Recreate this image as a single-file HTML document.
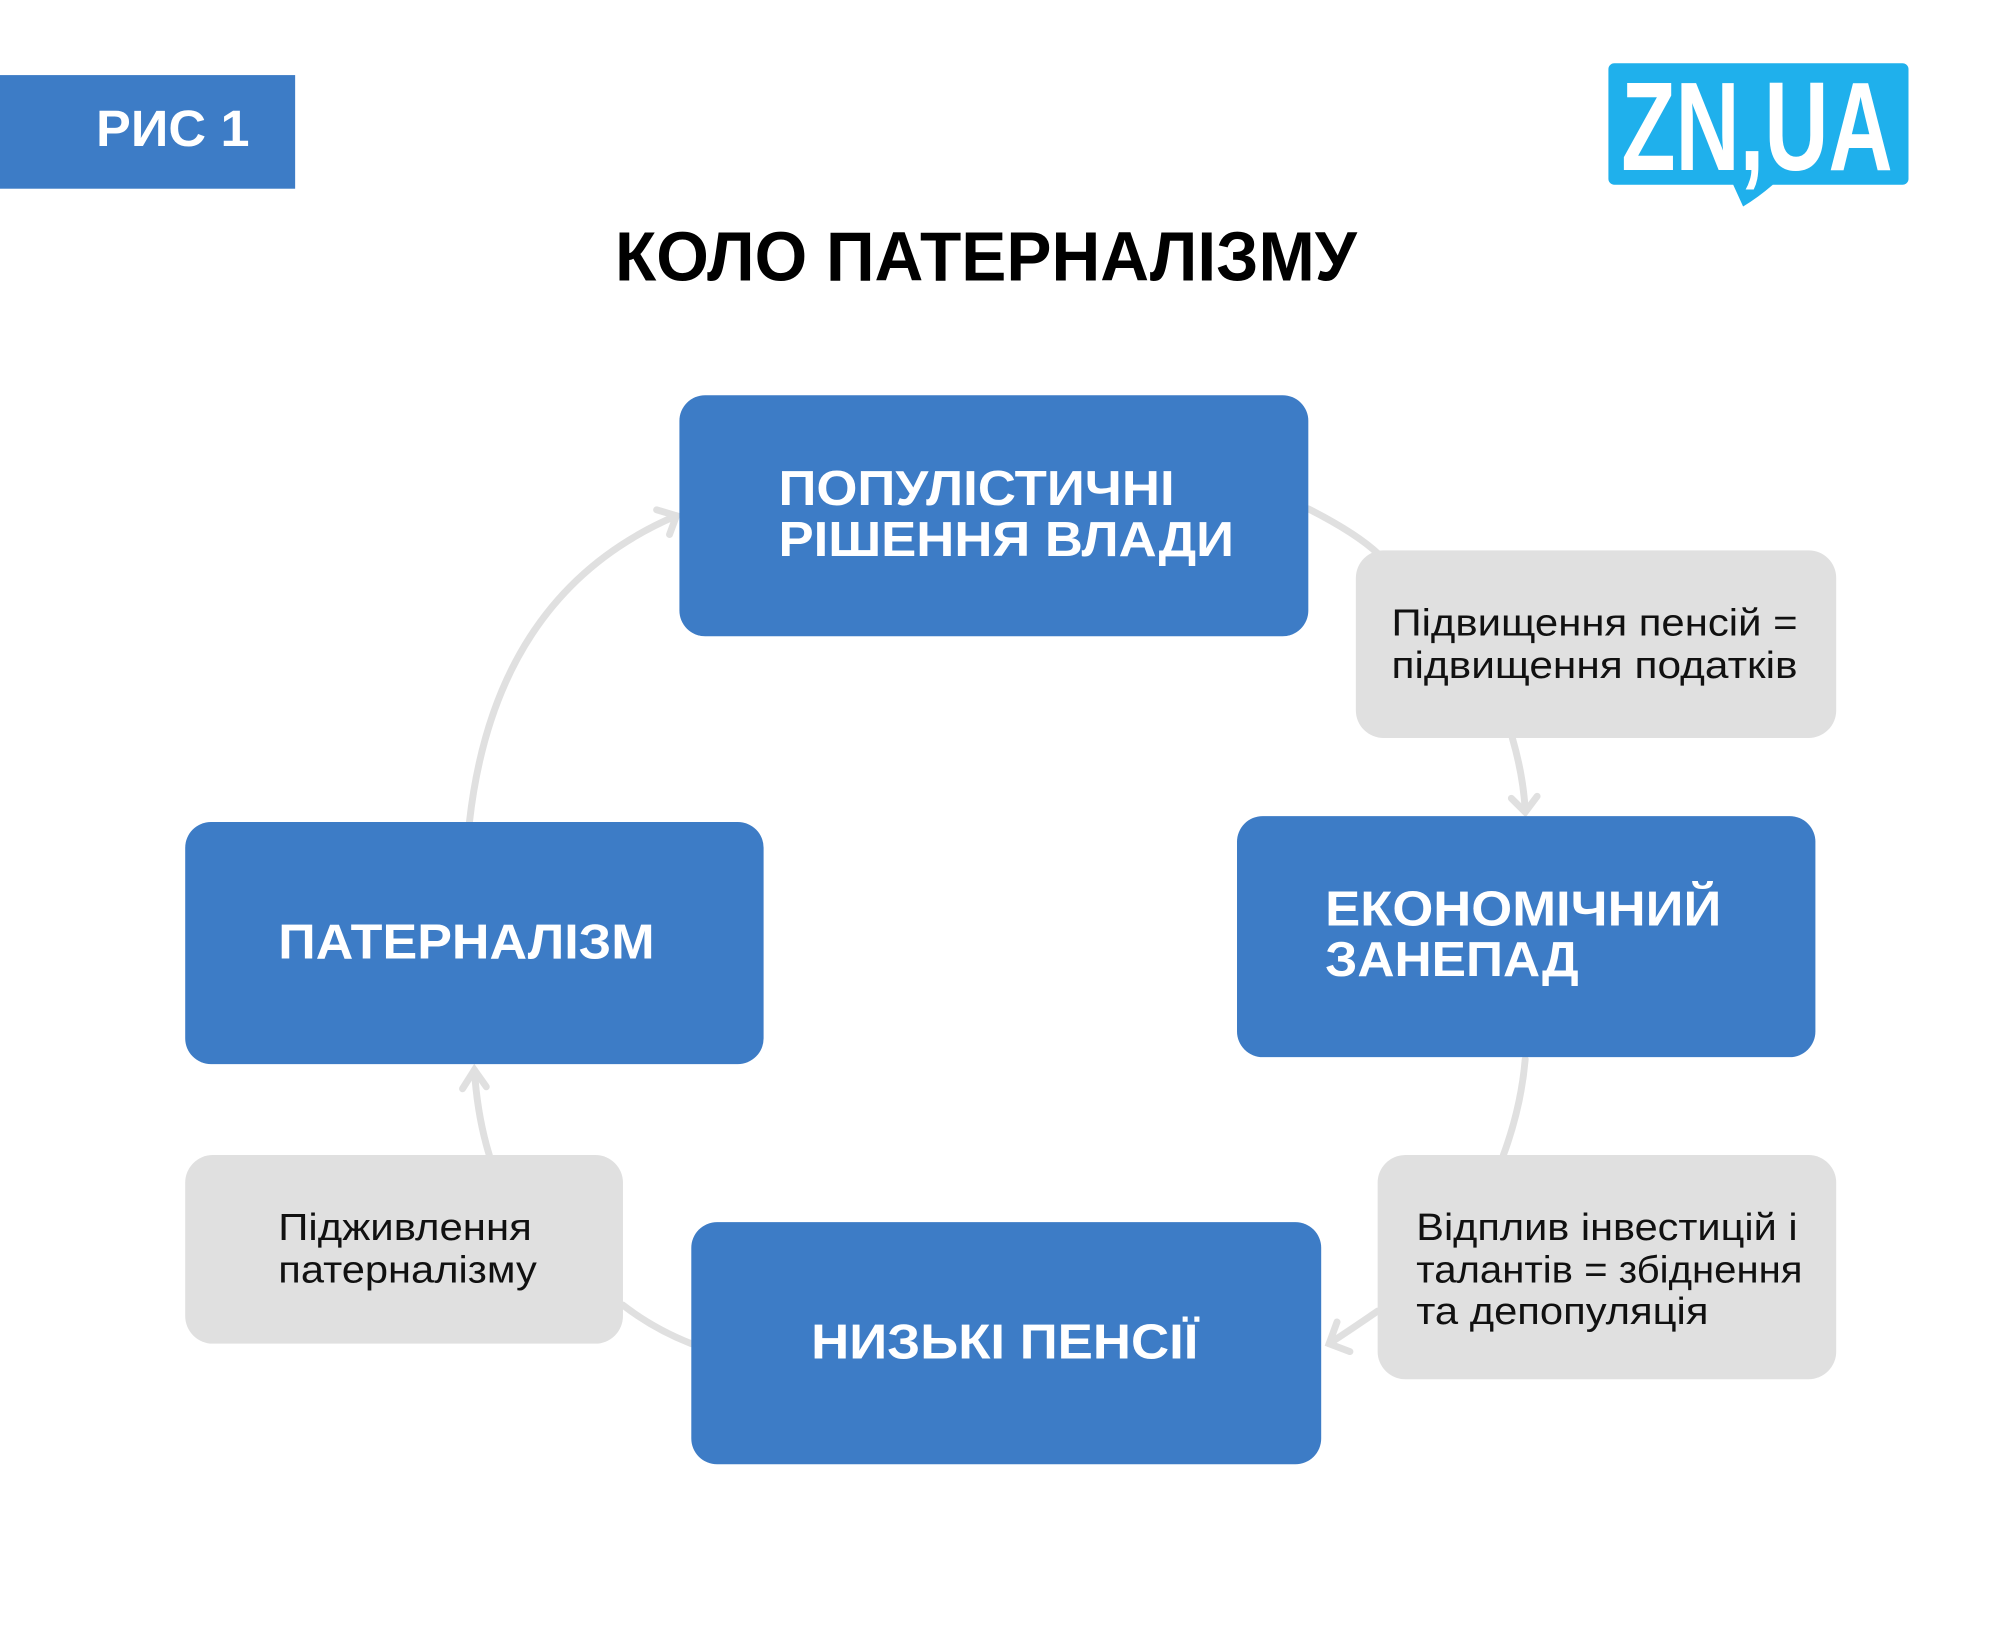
<!DOCTYPE html>
<html><head><meta charset="utf-8"><style>
html,body{margin:0;padding:0;background:#fff;}
body{width:2000px;height:1633px;overflow:hidden;}
</style></head><body>
<svg width="2000" height="1633" viewBox="0 0 2000 1633" xmlns="http://www.w3.org/2000/svg" font-family="Liberation Sans, DejaVu Sans, sans-serif">
<g transform="scale(0.9904 0.988)">
<rect x="0" y="76" width="298" height="115" fill="#3d7cc6"/>
<text x="97" y="148" font-size="52" font-weight="bold" fill="#fff" textLength="155" lengthAdjust="spacingAndGlyphs">РИС 1</text>
<path d="M1630 64 H1921 a6 6 0 0 1 6 6 V181 a6 6 0 0 1 -6 6 H1790 Q1775 200 1760 209 L1750 187 H1630 a6 6 0 0 1 -6 -6 V70 a6 6 0 0 1 6 -6 Z" fill="#1fb0ec"/>
<text x="1637" y="172" font-size="128" font-weight="bold" fill="#fff" textLength="274" lengthAdjust="spacingAndGlyphs">ZN,UA</text>
<text x="621" y="284" font-size="70" font-weight="bold" fill="#000" textLength="749" lengthAdjust="spacingAndGlyphs">КОЛО ПАТЕРНАЛІЗМУ</text>
<g fill="none" stroke="#e0e0e0" stroke-width="7" stroke-linecap="round">
<path d="M1321 515 Q1370 540 1392 561"/>
<path d="M1527 747 Q1538 785 1540 820"/>
<path d="M1526 808 L1540 822 L1552 806"/>
<path d="M1540 1072 Q1536 1120 1518 1169"/>
<path d="M1391 1327 Q1365 1345 1342 1360"/>
<path d="M1350 1338 L1342 1360 L1363 1368"/>
<path d="M698 1360 Q660 1345 629 1321"/>
<path d="M494 1169 Q482 1130 479 1083"/>
<path d="M467 1102 L479 1083 L491 1100"/>
<path d="M474 832 Q500 600 683 522"/>
<path d="M663 516 L683 522 L676 541"/>
</g>
<g fill="#3d7cc6">
<rect x="686" y="400" width="635" height="244" rx="26"/>
<rect x="1249" y="826" width="584" height="244" rx="26"/>
<rect x="698" y="1237" width="636" height="245" rx="26"/>
<rect x="187" y="832" width="584" height="245" rx="26"/>
</g>
<g fill="#e0e0e0">
<rect x="1369" y="557" width="485" height="190" rx="28"/>
<rect x="1391" y="1169" width="463" height="227" rx="28"/>
<rect x="187" y="1169" width="442" height="191" rx="28"/>
</g>
<g font-weight="bold" fill="#fff" font-size="50">
<text x="786" y="511" textLength="400" lengthAdjust="spacingAndGlyphs">ПОПУЛІСТИЧНІ</text>
<text x="786" y="563" textLength="460" lengthAdjust="spacingAndGlyphs">РІШЕННЯ ВЛАДИ</text>
<text x="1338" y="937" textLength="400" lengthAdjust="spacingAndGlyphs">ЕКОНОМІЧНИЙ</text>
<text x="1338" y="988" textLength="256" lengthAdjust="spacingAndGlyphs">ЗАНЕПАД</text>
<text x="819" y="1375" textLength="391" lengthAdjust="spacingAndGlyphs">НИЗЬКІ ПЕНСІЇ</text>
<text x="281" y="970" textLength="380" lengthAdjust="spacingAndGlyphs">ПАТЕРНАЛІЗМ</text>
</g>
<g fill="#111" font-size="38">
<text x="1405" y="643" textLength="410" lengthAdjust="spacingAndGlyphs">Підвищення пенсій =</text>
<text x="1405" y="686" textLength="410" lengthAdjust="spacingAndGlyphs">підвищення податків</text>
<text x="1430" y="1255" textLength="385" lengthAdjust="spacingAndGlyphs">Відплив інвестицій і</text>
<text x="1430" y="1298" textLength="390" lengthAdjust="spacingAndGlyphs">талантів = збіднення</text>
<text x="1430" y="1340" textLength="295" lengthAdjust="spacingAndGlyphs">та депопуляція</text>
<text x="281" y="1255" textLength="256" lengthAdjust="spacingAndGlyphs">Підживлення</text>
<text x="281" y="1298" textLength="261" lengthAdjust="spacingAndGlyphs">патерналізму</text>
</g>
</g>
</svg>
</body></html>
